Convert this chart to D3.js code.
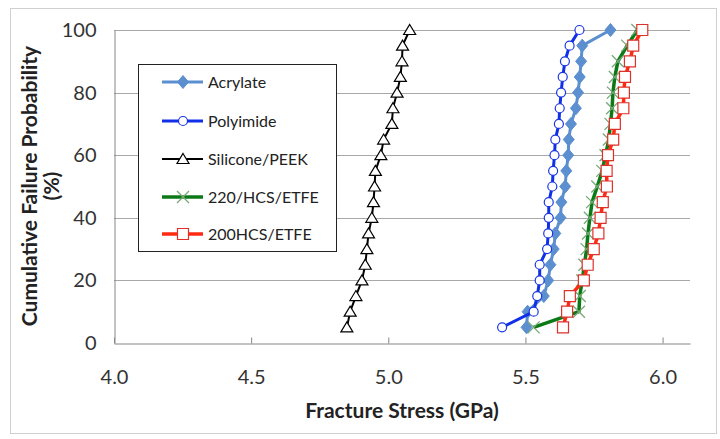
<!DOCTYPE html>
<html>
<head>
<meta charset="utf-8">
<script src="https://cdn.jsdelivr.net/npm/d3@7"></script>
<style>
  html, body { margin: 0; padding: 0; background: #fff; }
  svg { display: block; font-family: Lato, "Open Sans", sans-serif; }
</style>
</head>
<body>
<svg id="chart" width="720" height="439"></svg>
<script>
// Cumulative failure probability levels (%) shared by every coating
const probability = [5, 10, 15, 20, 25, 30, 35, 40, 45, 50, 55, 60, 65, 70, 75, 80, 85, 90, 95, 100];

// Fracture stress (GPa) per coating, ordered by rank
const acrylate = [5.504, 5.508, 5.567, 5.583, 5.591, 5.603, 5.609, 5.628, 5.631, 5.645,
                  5.649, 5.656, 5.658, 5.666, 5.684, 5.692, 5.698, 5.703, 5.707, 5.810];
const polyimide = [5.415, 5.530, 5.543, 5.552, 5.552, 5.579, 5.583, 5.585, 5.585, 5.598,
                   5.601, 5.606, 5.609, 5.622, 5.625, 5.630, 5.636, 5.644, 5.661, 5.697];
const siliconePeek = [4.849, 4.861, 4.882, 4.904, 4.916, 4.922, 4.928, 4.940, 4.946, 4.950,
                      4.953, 4.973, 4.983, 5.013, 5.017, 5.032, 5.044, 5.050, 5.052, 5.078];
const hcs220 = [5.530, 5.695, 5.698, 5.707, 5.715, 5.723, 5.728, 5.735, 5.743, 5.762,
                5.780, 5.792, 5.804, 5.810, 5.816, 5.819, 5.826, 5.837, 5.871, 5.908];
const hcs200 = [5.637, 5.652, 5.662, 5.713, 5.727, 5.749, 5.766, 5.774, 5.782, 5.797,
                5.796, 5.801, 5.820, 5.826, 5.857, 5.859, 5.863, 5.881, 5.893, 5.926];

const seriesNames = ["Acrylate", "Polyimide", "Silicone/PEEK", "220/HCS/ETFE", "200HCS/ETFE"];
const xTicks = [4.0, 4.5, 5.0, 5.5, 6.0];
const yTicks = [0, 20, 40, 60, 80, 100];

// Custom marker shapes (drawn around the origin)
const shapes = {
  diamond: { draw(ctx) { ctx.moveTo(0, -6.5); ctx.lineTo(5.5, 0); ctx.lineTo(0, 6.5); ctx.lineTo(-5.5, 0); ctx.closePath(); } },
  circle: { draw(ctx) { ctx.moveTo(4.5, 0); ctx.arc(0, 0, 4.5, 0, 2 * Math.PI); } },
  triangle: { draw(ctx) { ctx.moveTo(0, -5.5); ctx.lineTo(6, 4.5); ctx.lineTo(-6, 4.5); ctx.closePath(); } },
  times: { draw(ctx) { ctx.moveTo(-6, -6); ctx.lineTo(6, 6); ctx.moveTo(6, -6); ctx.lineTo(-6, 6); } },
  square: { draw(ctx) { ctx.rect(-5.5, -5.5, 11, 11); } }
};

const styles = [
  { values: acrylate,     line: "#5b8fcf", width: 3,   shape: "diamond",  fill: "#5b8fcf", stroke: "#5b8fcf", sw: 1 },
  { values: polyimide,    line: "#1030e8", width: 3,   shape: "circle",   fill: "#ffffff", stroke: "#1a35e6", sw: 1.2 },
  { values: siliconePeek, line: "#000000", width: 2,   shape: "triangle", fill: "#ffffff", stroke: "#000000", sw: 1.2 },
  { values: hcs220,       line: "#0b7a16", width: 3.5, shape: "times",    fill: "none",    stroke: "#78a878", sw: 1.3 },
  { values: hcs200,       line: "#ff2a10", width: 3.5, shape: "square",   fill: "#ffffff", stroke: "#e0302a", sw: 1.2 }
];

const svg = d3.select("#chart");

// Chart area frame
svg.append("rect")
  .attr("x", 10.5).attr("y", 8.5).attr("width", 706).attr("height", 425)
  .attr("fill", "#fff").attr("stroke", "#d0d0d0");

const x = d3.scaleLinear().domain([4.0, 6.1]).range([114, 690]);
const y = d3.scaleLinear().domain([0, 100]).range([343, 30]);

// Horizontal gridlines
svg.append("g")
  .selectAll("line")
  .data(yTicks.filter(t => t > 0))
  .join("line")
  .attr("x1", x(4.0)).attr("x2", x(6.1))
  .attr("y1", d => Math.round(y(d)) + 0.5).attr("y2", d => Math.round(y(d)) + 0.5)
  .attr("stroke", "#a8a8a8").attr("stroke-width", 1);

// Axes
const xAxis = svg.append("g")
  .attr("transform", `translate(0,${Math.round(y(0)) + 0.5})`)
  .call(d3.axisBottom(x).tickValues(xTicks).tickFormat(d3.format(".1f")).tickSizeInner(-6).tickSizeOuter(0).tickPadding(26));
xAxis.select(".domain").attr("stroke", "#868686");
xAxis.selectAll(".tick line").attr("stroke", "#868686");
xAxis.selectAll(".tick text").attr("font-size", 20).attr("fill", "#333").attr("font-family", "Lato, sans-serif");

const yAxis = svg.append("g")
  .attr("transform", `translate(${Math.round(x(4.0)) + 0.5},0)`)
  .call(d3.axisLeft(y).tickValues(yTicks).tickSizeInner(0).tickSizeOuter(0).tickPadding(18));
yAxis.select(".domain").attr("stroke", "#868686");
yAxis.selectAll(".tick text").attr("font-size", 20).attr("fill", "#333").attr("font-family", "Lato, sans-serif");

// Axis titles
svg.append("text")
  .attr("x", 402).attr("y", 418)
  .attr("text-anchor", "middle")
  .attr("font-size", 21).attr("font-weight", "bold").attr("fill", "#222")
  .text("Fracture Stress (GPa)");

const yTitle = svg.append("text")
  .attr("transform", "translate(30,186) rotate(-90)")
  .attr("text-anchor", "middle")
  .attr("font-size", 21).attr("font-weight", "bold").attr("fill", "#222");
yTitle.append("tspan").attr("x", 0).attr("dy", 7).text("Cumulative Failure Probability");
yTitle.append("tspan").attr("x", 0).attr("dy", 22).text("(%)");

// Series lines and markers
const line = d3.line().x(d => x(d[0])).y(d => y(d[1]));

styles.forEach((s, i) => {
  const pts = s.values.map((v, k) => [v, probability[k]]);
  const g = svg.append("g").attr("class", "series-" + i);
  g.append("path")
    .datum(pts)
    .attr("d", line)
    .attr("fill", "none")
    .attr("stroke", s.line)
    .attr("stroke-width", s.width)
    .attr("stroke-linejoin", "round");
  g.selectAll("path.marker")
    .data(pts)
    .join("path")
    .attr("class", "marker")
    .attr("transform", d => `translate(${x(d[0])},${y(d[1])})`)
    .attr("d", d3.symbol().type(shapes[s.shape]))
    .attr("fill", s.fill)
    .attr("stroke", s.stroke)
    .attr("stroke-width", s.sw);
});

// Legend
const legend = svg.append("g");
legend.append("rect")
  .attr("x", 138.5).attr("y", 64.5).attr("width", 198).attr("height", 187)
  .attr("fill", "#fff").attr("stroke", "#222").attr("stroke-width", 1);

const legendRows = [82, 121, 159, 197, 234];
seriesNames.forEach((name, i) => {
  const s = styles[i];
  const ry = legendRows[i];
  const row = legend.append("g").attr("transform", `translate(0,${ry})`);
  row.append("line")
    .attr("x1", 162).attr("x2", 203).attr("y1", 0).attr("y2", 0)
    .attr("stroke", s.line).attr("stroke-width", s.width);
  row.append("path")
    .attr("transform", "translate(183,0)")
    .attr("d", d3.symbol().type(shapes[s.shape]))
    .attr("fill", s.fill).attr("stroke", s.stroke).attr("stroke-width", s.sw);
  row.append("text")
    .attr("x", 208).attr("y", 0).attr("dy", "0.35em")
    .attr("font-size", 16).attr("fill", "#222")
    .text(name);
});
</script>
</body>
</html>
